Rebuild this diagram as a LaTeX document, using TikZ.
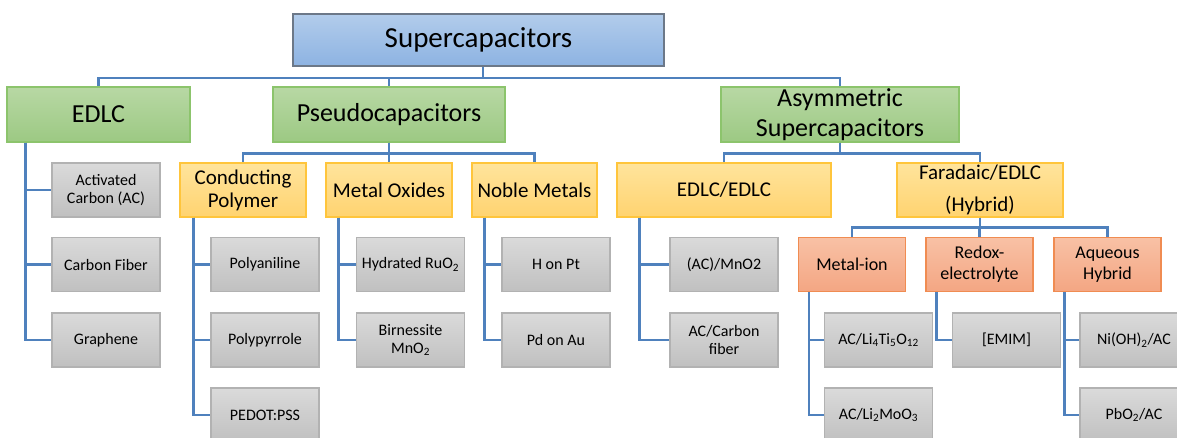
\documentclass[tikz,border=0pt]{standalone}
\usepackage{fontspec}
\setmainfont{Carlito}

\definecolor{rootTop}{RGB}{178,204,235}
\definecolor{rootBot}{RGB}{141,179,226}
\definecolor{rootLine}{RGB}{108,120,136}
\definecolor{typeTop}{RGB}{184,216,164}
\definecolor{typeBot}{RGB}{156,201,131}
\definecolor{typeLine}{RGB}{140,196,108}
\definecolor{classTop}{RGB}{255,228,156}
\definecolor{classBot}{RGB}{255,211,112}
\definecolor{classLine}{RGB}{255,197,60}
\definecolor{subTop}{RGB}{248,193,165}
\definecolor{subBot}{RGB}{244,166,131}
\definecolor{subLine}{RGB}{240,140,82}
\definecolor{leafTop}{RGB}{218,218,218}
\definecolor{leafBot}{RGB}{192,192,192}
\definecolor{leafLine}{RGB}{178,178,178}
\definecolor{linkBlue}{RGB}{79,129,189}

\begin{document}
\begin{tikzpicture}[x=1pt, y=-1pt]
    \tikzstyle{every node} = [align=center, inner sep=0pt]
    \tikzstyle{rootbox} = [draw=rootLine, line width=2pt, top color=rootTop, bottom color=rootBot, minimum height=52pt, font=\fontsize{29}{34}\selectfont]
    \tikzstyle{typebox} = [draw=typeLine, line width=1.3pt, top color=typeTop, bottom color=typeBot, minimum height=55pt, font=\fontsize{26}{30}\selectfont]
    \tikzstyle{classbox} = [draw=classLine, line width=1.3pt, top color=classTop, bottom color=classBot, minimum height=54pt, font=\fontsize{21}{23}\selectfont]
    \tikzstyle{subbox} = [draw=subLine, line width=1.3pt, top color=subTop, bottom color=subBot, minimum width=107pt, minimum height=54pt, font=\fontsize{18}{21}\selectfont]
    \tikzstyle{leafbox} = [draw=leafLine, line width=1.2pt, top color=leafTop, bottom color=leafBot, minimum width=108pt, minimum height=54pt, font=\fontsize{16}{18}\selectfont]
    \tikzstyle{link} = [draw=linkBlue, line width=2.7pt]

    \clip (0,0) rectangle (1177,437);

    \node [rootbox, minimum width=371pt] (sc) at (478.5,40) {Supercapacitors};

    \node [typebox, minimum width=183pt] (edlc) at (98.5,114.5) {EDLC};
    \node [typebox, minimum width=232pt] (pseudo) at (389,114.5) {Pseudocapacitors};
    \node [typebox, minimum width=238pt] (asym) at (840,114.5) {Asymmetric\\Supercapacitors};

    \node [classbox, minimum width=126pt] (cp) at (243,190) {Conducting\\Polymer};
    \node [classbox, minimum width=126pt] (mo) at (389,190) {Metal Oxides};
    \node [classbox, minimum width=125pt] (nm) at (534.5,190) {Noble Metals};
    \node [classbox, minimum width=214pt] (ee) at (724,190) {EDLC/EDLC};
    \node [classbox, minimum width=166pt] (fe) at (980,190) {Faradaic/EDLC\\[9pt](Hybrid)};

    \node [subbox] (mi) at (852,264.5) {Metal-ion};
    \node [subbox] (rx) at (979.5,264.5) {Redox-\\electrolyte};
    \node [subbox] (aq) at (1107.5,264.5) {Aqueous\\Hybrid};

    \node [leafbox] (ac) at (106,190) {Activated\\Carbon (AC)};
    \node [leafbox] (cf) at (106,264.5) {Carbon Fiber};
    \node [leafbox] (gr) at (106,340) {Graphene};
    \node [leafbox] (pani) at (265,264.5) {Polyaniline};
    \node [leafbox] (ppy) at (265,340) {Polypyrrole};
    \node [leafbox] (pedot) at (265,415) {PEDOT:PSS};
    \node [leafbox] (ruo) at (410.5,264.5) {Hydrated RuO\textsubscript{2}};
    \node [leafbox] (mno) at (410.5,340) {Birnessite\\MnO\textsubscript{2}};
    \node [leafbox] (hpt) at (556,264.5) {H on Pt};
    \node [leafbox] (pdau) at (556,340) {Pd on Au};
    \node [leafbox] (acmn) at (724,264.5) {(AC)/MnO2};
    \node [leafbox] (accf) at (724,340) {AC/Carbon\\fiber};
    \node [leafbox] (lto) at (878.5,340) {AC/Li\textsubscript{4}Ti\textsubscript{5}O\textsubscript{12}};
    \node [leafbox] (lmo) at (878.5,415) {AC/Li\textsubscript{2}MoO\textsubscript{3}};
    \node [leafbox] (emim) at (1006.5,340) {[EMIM]};
    \node [leafbox] (nioh) at (1134,340) {Ni(OH)\textsubscript{2}/AC};
    \node [leafbox] (pbo) at (1134,415) {PbO\textsubscript{2}/AC};

    % org chart buses
    \foreach \kid in {edlc,pseudo,asym}
        \draw [link] ([xshift=4.5pt]sc.south) -- ++(0,11) -| (\kid.north);
    \foreach \kid in {cp,mo,nm}
        \draw [link] (pseudo.south) -- ++(0,11) -| (\kid.north);
    \foreach \kid in {ee,fe}
        \draw [link] (asym.south) -- ++(0,11) -| (\kid.north);
    \foreach \kid in {mi,rx,aq}
        \draw [link] (fe.south) -- ++(0,10) -| (\kid.north);

    % hanging lists
    \foreach \kid in {ac,cf,gr}
        \draw [link] ([xshift=19pt]edlc.south west) |- (\kid.west);
    \foreach \kid in {pani,ppy,pedot}
        \draw [link] ([xshift=14pt]cp.south west) |- (\kid.west);
    \foreach \kid in {ruo,mno}
        \draw [link] ([xshift=13pt]mo.south west) |- (\kid.west);
    \foreach \kid in {hpt,pdau}
        \draw [link] ([xshift=13pt]nm.south west) |- (\kid.west);
    \foreach \kid in {acmn,accf}
        \draw [link] ([xshift=23pt]ee.south west) |- (\kid.west);
    \foreach \kid in {lto,lmo}
        \draw [link] ([xshift=11pt]mi.south west) |- (\kid.west);
    \draw [link] ([xshift=11pt]rx.south west) |- (emim.west);
    \foreach \kid in {nioh,pbo}
        \draw [link] ([xshift=11pt]aq.south west) |- (\kid.west);
\end{tikzpicture}
\end{document}
